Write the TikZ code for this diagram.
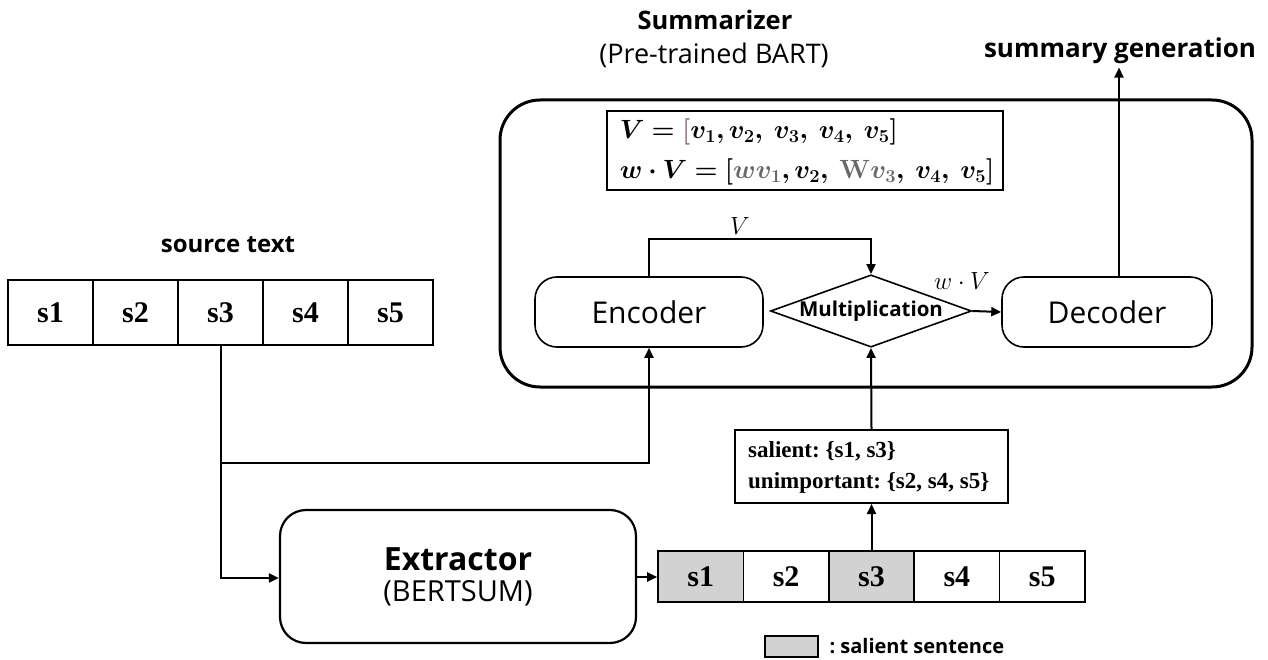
\documentclass[tikz,border=0pt]{standalone}
\usepackage{amsmath,bm}
\usepackage{fontspec}
\setsansfont{Open Sans}
\setmainfont{Liberation Serif}
\usetikzlibrary{shapes.geometric,arrows.meta}
\definecolor{saliencegray}{RGB}{210,210,210}
\definecolor{brk}{RGB}{140,110,110}
\definecolor{wgray}{RGB}{105,105,105}
\frenchspacing
\tikzset{
  conn/.style={line width=2pt,-{Triangle[length=10pt,width=9pt]}},
  line/.style={line width=2pt},
  cell/.style={draw,line width=1.6pt,minimum width=85pt,minimum height=65pt,inner sep=0pt,font=\fontsize{30}{32}\selectfont\bfseries},
  cellb/.style={draw,line width=1.6pt,minimum width=85.4pt,minimum height=51pt,inner sep=0pt,font=\fontsize{30}{32}\selectfont\bfseries},
  rbox/.style={draw,line width=1.6pt,rounded corners=22pt,font=\sffamily\fontsize{30}{34}\selectfont},
  formula/.style={anchor=west,scale=1.06,font=\fontsize{24}{28}\selectfont},
}
\begin{document}
\begin{tikzpicture}[x=1pt,y=-1pt]
\useasboundingbox (0,0) rectangle (1268,660);
% titles
\node[font=\sffamily\bfseries\fontsize{25.5}{28}\selectfont] (title) at (715,20) {Summarizer};
\node[font=\sffamily\fontsize{27}{30}\selectfont] (subtitle) at (714,55) {(Pre-trained BART)};
\node[font=\sffamily\bfseries\fontsize{26}{28}\selectfont] (gen) at (1120,51) {summary generation};
% summarizer box
\node[draw,line width=3pt,rounded corners=40pt,minimum width=752pt,minimum height=287pt] (summ) at (876,243.5) {};
% formula box
\node[draw,line width=2pt,minimum width=396pt,minimum height=79pt,inner sep=0pt] (formula) at (805,150.5) {};
\node[formula] (f1) at (616,132) {$\bm{V = {\color{brk}[}v_1, v_2,\ v_3,\ v_4,\ v_5]}$};
\node[formula] (f2) at (616,172) {$\bm{w\cdot V = [{\color{wgray}wv_1}, v_2,\ {\color{wgray}\mathbf{W}v_3},\ v_4,\ v_5]}$};
% encoder, multiplication, decoder
\node[rbox,minimum width=228pt,minimum height=70pt] (enc) at (649,312) {Encoder};
\node[draw,line width=1.6pt,diamond,aspect=2.78,minimum width=200pt,minimum height=72pt,inner sep=0pt,font=\sffamily\bfseries\fontsize{20.5}{22}\selectfont] (mult) at (871,311) {Multiplication};
\node[rbox,minimum width=210pt,minimum height=70pt] (dec) at (1107,312) {Decoder};
\coordinate (vbend1) at (649,239);
\coordinate (vbend2) at (871,239);
\draw[conn] (enc.north -| vbend1) -- (vbend1) -- (vbend2) -- (mult.north);
\node[font=\fontsize{24}{28}\selectfont] (vlab) at (740,226) {$V$};
\draw[conn] (mult.east) -- (dec.west);
\node[font=\fontsize{24}{28}\selectfont] (wvlab) at (962,281) {$w\cdot V$};
\draw[conn] (dec.north -| 1119,0) -- (gen.south -| 1119,0);
% source text
\node[font=\sffamily\bfseries\fontsize{24}{26}\selectfont] (srclab) at (228,245) {source text};
\node[cell] (a1) at (50.5,312.5) {s1};
\node[cell] (a2) at (135.5,312.5) {s2};
\node[cell] (a3) at (220.5,312.5) {s3};
\node[cell] (a4) at (305.5,312.5) {s4};
\node[cell] (a5) at (390.5,312.5) {s5};
% extractor
\node[rbox,minimum width=356pt,minimum height=133pt,rounded corners=26pt,line width=2.2pt,align=center,font=\sffamily\fontsize{29}{34}\selectfont] (ext) at (458,576.5) {{\bfseries\fontsize{32}{36}\selectfont Extractor}\\[-3pt](BERTSUM)};
\coordinate (branch) at (220.5,463);
\draw[line] (a3.south) -- (branch);
\draw[conn] (branch) -- (branch -| enc.south) -- (enc.south);
\draw[conn] (branch) -- (220.5,578) -- (ext.west |- 0,578);
% second row
\node[cellb,fill=saliencegray] (b1) at (700.7,576.5) {s1};
\node[cellb] (b2) at (786.1,576.5) {s2};
\node[cellb,fill=saliencegray] (b3) at (871.5,576.5) {s3};
\node[cellb] (b4) at (956.9,576.5) {s4};
\node[cellb] (b5) at (1042.3,576.5) {s5};
\draw[conn] (ext.east |- 0,577) -- (b1.west |- 0,577);
% salient box
\node[draw,line width=2pt,minimum width=273pt,minimum height=73pt] (sal) at (871.5,466.5) {};
\node[anchor=west,align=left,inner sep=0pt,font=\fontsize{23}{31}\selectfont\bfseries] (saltxt) at (748,467) {salient: \{s1, s3\}\\unimportant: \{s2, s4, s5\}};
\draw[conn] (b3.north) -- (sal.south);
\draw[conn] (sal.north) -- (mult.south);
% legend
\node[draw,line width=1.6pt,fill=saliencegray,minimum width=53pt,minimum height=21pt,inner sep=0pt] (leg) at (791.5,646.5) {};
\node[anchor=west,font=\sffamily\bfseries\fontsize{20}{22}\selectfont] (legtxt) at (826,646) {: salient sentence};
\end{tikzpicture}
\end{document}
